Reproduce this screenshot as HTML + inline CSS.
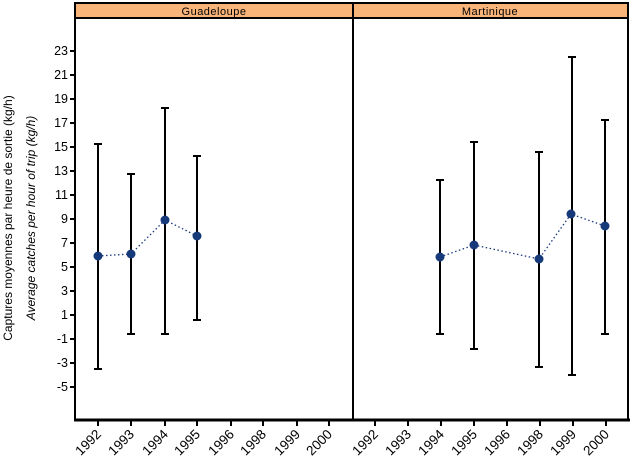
<!DOCTYPE html>
<html><head><style>body{margin:0;background:#fff}svg{display:block;font-family:"Liberation Sans",sans-serif}</style></head><body>
<svg width="630" height="467" viewBox="0 0 630 467">
<rect x="75" y="3" width="553" height="15" fill="#f9b47a" stroke="#000" stroke-width="2"/>
<text x="214" y="15" font-size="11" text-anchor="middle" letter-spacing="0.5">Guadeloupe</text>
<text x="490" y="15" font-size="11" text-anchor="middle" letter-spacing="0.5">Martinique</text>
<line x1="75" y1="3" x2="75" y2="421" stroke="#000" stroke-width="2"/>
<line x1="353" y1="3" x2="353" y2="421" stroke="#000" stroke-width="2"/>
<line x1="628" y1="3" x2="628" y2="421" stroke="#000" stroke-width="2"/>
<line x1="74" y1="420" x2="630" y2="420" stroke="#000" stroke-width="3"/>
<g font-size="12.5" text-anchor="end">
<text x="68" y="55">23</text><text x="68" y="79">21</text><text x="68" y="103">19</text><text x="68" y="127">17</text><text x="68" y="151">15</text><text x="68" y="175">13</text><text x="68" y="199">11</text><text x="68" y="223">9</text><text x="68" y="247">7</text><text x="68" y="271">5</text><text x="68" y="295">3</text><text x="68" y="319">1</text><text x="68" y="343">-1</text><text x="68" y="367">-3</text><text x="68" y="391">-5</text>
</g>
<g stroke="#000" stroke-width="2">
<line x1="70" y1="51" x2="76" y2="51"/><line x1="70" y1="75" x2="76" y2="75"/><line x1="70" y1="99" x2="76" y2="99"/><line x1="70" y1="123" x2="76" y2="123"/><line x1="70" y1="147" x2="76" y2="147"/><line x1="70" y1="171" x2="76" y2="171"/><line x1="70" y1="195" x2="76" y2="195"/><line x1="70" y1="219" x2="76" y2="219"/><line x1="70" y1="243" x2="76" y2="243"/><line x1="70" y1="267" x2="76" y2="267"/><line x1="70" y1="291" x2="76" y2="291"/><line x1="70" y1="315" x2="76" y2="315"/><line x1="70" y1="339" x2="76" y2="339"/><line x1="70" y1="363" x2="76" y2="363"/><line x1="70" y1="387" x2="76" y2="387"/>
</g>
<text transform="translate(12,218) rotate(-90)" font-size="12" text-anchor="middle">Captures moyennes par heure de sortie (kg/h)</text>
<text transform="translate(35,218) rotate(-90)" font-size="12" font-style="italic" text-anchor="middle">Average catches per hour of trip (kg/h)</text>
<g stroke="#000" stroke-width="2">
<path d="M98 420v6M131 420v6M165 420v6M197 420v6M231 420v6M263 420v6M297 420v6M329 420v6M375 420v6M408 420v6M441 420v6M474 420v6M507 420v6M540 420v6M573 420v6M606 420v6"/>
</g>
<g font-size="13.5" text-anchor="end">
<text transform="translate(102,435) rotate(-45)">1992</text><text transform="translate(135,435) rotate(-45)">1993</text><text transform="translate(169,435) rotate(-45)">1994</text><text transform="translate(201,435) rotate(-45)">1995</text><text transform="translate(235,435) rotate(-45)">1996</text><text transform="translate(267,435) rotate(-45)">1998</text><text transform="translate(301,435) rotate(-45)">1999</text><text transform="translate(333,435) rotate(-45)">2000</text>
<text transform="translate(379,435) rotate(-45)">1992</text><text transform="translate(412,435) rotate(-45)">1993</text><text transform="translate(445,435) rotate(-45)">1994</text><text transform="translate(478,435) rotate(-45)">1995</text><text transform="translate(511,435) rotate(-45)">1996</text><text transform="translate(544,435) rotate(-45)">1998</text><text transform="translate(577,435) rotate(-45)">1999</text><text transform="translate(610,435) rotate(-45)">2000</text>
</g>
<g stroke="#000" stroke-width="2">
<path d="M98 144V369M94 144h8M94 369h8"/>
<path d="M131 174V334M127 174h8M127 334h8"/>
<path d="M165 108V334M161 108h8M161 334h8"/>
<path d="M197 156V320M193 156h8M193 320h8"/>
<path d="M440 180V334M436 180h8M436 334h8"/>
<path d="M474 142V349M470 142h8M470 349h8"/>
<path d="M539 152V367M535 152h8M535 367h8"/>
<path d="M572 57V375M568 57h8M568 375h8"/>
<path d="M605 120V334M601 120h8M601 334h8"/>
</g>
<g stroke="#1a3a7a" stroke-width="1.3" stroke-dasharray="1.5,2.5" fill="none">
<polyline points="98,256 131,254 165,220 197,236"/>
<polyline points="440,257 474,245 539,259 571,214 605,226"/>
</g>
<g fill="#16397a">
<circle cx="98" cy="256" r="4.5"/><circle cx="131" cy="254" r="4.5"/><circle cx="165" cy="220" r="4.5"/><circle cx="197" cy="236" r="4.5"/>
<circle cx="440" cy="257" r="4.5"/><circle cx="474" cy="245" r="4.5"/><circle cx="539" cy="259" r="4.5"/><circle cx="571" cy="214" r="4.5"/><circle cx="605" cy="226" r="4.5"/>
</g>
</svg>
</body></html>
